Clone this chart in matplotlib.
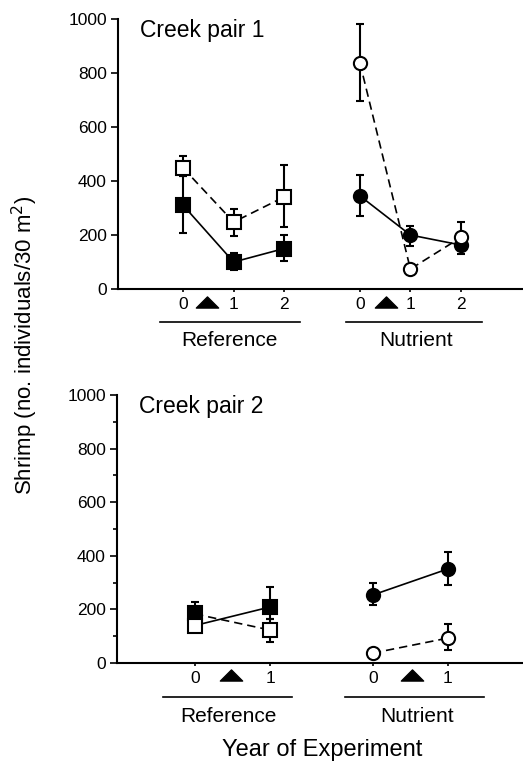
import matplotlib
matplotlib.use('Agg')
import matplotlib.pyplot as plt
import matplotlib.transforms as mtransforms
from matplotlib.path import Path

plt.rcParams['font.family'] = ['Liberation Sans', 'DejaVu Sans']

# ---- Creek pair 1 data ----
years1 = [0, 1, 2]
ref1_fill = [310, 100, 150]
ref1_fill_lo = [207, 70, 105]
ref1_fill_hi = [420, 135, 200]
ref1_open = [448, 248, 341]
ref1_open_lo = [420, 195, 228]
ref1_open_hi = [493, 298, 458]
nut1_fill = [345, 200, 163]
nut1_fill_lo = [270, 160, 128]
nut1_fill_hi = [423, 235, 195]
nut1_open = [838, 74, 191]
nut1_open_lo = [697, 74, 170]
nut1_open_hi = [980, 74, 250]

# ---- Creek pair 2 data ----
years2 = [0, 1]
ref2_fill = [187, 209]
ref2_fill_lo = [150, 165]
ref2_fill_hi = [228, 284]
ref2_open = [138, 123]
ref2_open_lo = [116, 78]
ref2_open_hi = [160, 165]
# connecting lines as drawn in the figure (they cross at year 0)
ref2_solid_line = [140, 209]
ref2_dash_line = [183, 123]
nut2_fill = [254, 351]
nut2_fill_lo = [215, 290]
nut2_fill_hi = [297, 415]
nut2_open = [37, 93]
nut2_open_lo = [37, 50]
nut2_open_hi = [37, 145]

# flat triangle for the fertilisation arrow
tri = Path([(-1, -0.5), (1, -0.5), (0, 0.5), (-1, -0.5)],
           [Path.MOVETO, Path.LINETO, Path.LINETO, Path.CLOSEPOLY])

fig = plt.figure(figsize=(5.23, 7.64), dpi=100)
ax1 = fig.add_axes([0.2256, 0.6217, 0.7744, 0.3534])
ax2 = fig.add_axes([0.2237, 0.1322, 0.7763, 0.3508])


def err(vals, lo, hi):
    return [[v - l for v, l in zip(vals, lo)], [h - v for v, h in zip(vals, hi)]]


def series(ax, x, vals, lo, hi, marker, filled, ls, line=True):
    ax.errorbar(x, vals, yerr=err(vals, lo, hi), fmt='none', ecolor='black',
                elinewidth=1.5, capsize=3, capthick=1.5, zorder=2)
    if line:
        ax.plot(x, vals, color='black', linestyle=ls, linewidth=1.2, zorder=3,
                dashes=(5, 3) if ls == '--' else (None, None))
    ax.plot(x, vals, linestyle='none', marker=marker, markersize=9.5,
            markerfacecolor='black' if filled else 'white',
            markeredgecolor='black', markeredgewidth=1.5, zorder=4 if filled else 5)


def style(ax, xlim, ticks, ticklabels, minor):
    ax.set_ylim(0, 1000)
    ax.set_xlim(*xlim)
    for s in ['top', 'right']:
        ax.spines[s].set_visible(False)
    ax.spines['left'].set_linewidth(1.5)
    ax.spines['bottom'].set_linewidth(1.5)
    ax.set_yticks([0, 200, 400, 600, 800, 1000])
    if minor:
        ax.set_yticks(range(100, 1000, 200), minor=True)
        ax.tick_params(axis='y', which='minor', length=3, width=1.2)
    ax.set_xticks(ticks)
    ax.set_xticklabels(ticklabels)
    ax.tick_params(axis='y', which='major', length=5, width=1.2, labelsize=12.5, pad=3)
    ax.tick_params(axis='x', length=2, width=1.2, labelsize=12.5, pad=4)


def groups(ax, tri_x, tri_y, line_spans, line_y, label_x, label_y):
    trans = mtransforms.blended_transform_factory(ax.transData, ax.transAxes)
    for tx in tri_x:
        ax.plot([tx], [tri_y], marker=tri, markersize=16, color='black',
                transform=trans, clip_on=False)
    for (a, b) in line_spans:
        ax.plot([a, b], [line_y, line_y], color='black', linewidth=1.2,
                transform=trans, clip_on=False)
    for lx, name in zip(label_x, ['Reference', 'Nutrient']):
        ax.text(lx, label_y, name, transform=trans, ha='center', va='center', fontsize=15)


# ---- Top panel ----
n1 = [y + 3.5 for y in years1]
series(ax1, years1, ref1_fill, ref1_fill_lo, ref1_fill_hi, 's', True, '-')
series(ax1, years1, ref1_open, ref1_open_lo, ref1_open_hi, 's', False, '--')
series(ax1, n1, nut1_fill, nut1_fill_lo, nut1_fill_hi, 'o', True, '-')
series(ax1, n1, nut1_open, nut1_open_lo, nut1_open_hi, 'o', False, '--')
style(ax1, (-1.29, 6.73), years1 + n1, ['0', '1', '2'] * 2, False)
groups(ax1, [0.48, 4.02], -0.048, [(-0.46, 2.32), (3.22, 5.92)], -0.122,
       [0.91, 4.61], -0.19)
ax1.text(0.054, 1.0, 'Creek pair 1', transform=ax1.transAxes, fontsize=16.5, va='top')

# ---- Bottom panel ----
n2 = [y + 2.37 for y in years2]
ax2.plot(years2, ref2_solid_line, color='black', linewidth=1.2, zorder=3)
ax2.plot(years2, ref2_dash_line, color='black', linewidth=1.2, linestyle='--',
         dashes=(5, 3), zorder=3)
series(ax2, years2, ref2_fill, ref2_fill_lo, ref2_fill_hi, 's', True, '-', line=False)
series(ax2, years2, ref2_open, ref2_open_lo, ref2_open_hi, 's', False, '--', line=False)
series(ax2, n2, nut2_fill, nut2_fill_lo, nut2_fill_hi, 'o', True, '-')
series(ax2, n2, nut2_open, nut2_open_lo, nut2_open_hi, 'o', False, '--')
style(ax2, (-1.04, 4.37), years2 + n2, ['0', '1'] * 2, True)
groups(ax2, [0.48, 2.89], -0.045, [(-0.43, 1.29), (2.0, 3.85)], -0.127,
       [0.45, 2.96], -0.2)
ax2.text(0.054, 1.0, 'Creek pair 2', transform=ax2.transAxes, fontsize=16.5, va='top')

fig.text(0.048, 0.548, 'Shrimp (no. individuals/30 m$^2$)', rotation=90,
         ha='center', va='center', fontsize=16)
fig.text(0.616, 0.018, 'Year of Experiment', ha='center', va='center', fontsize=17)

plt.savefig('out.png', dpi=100)
